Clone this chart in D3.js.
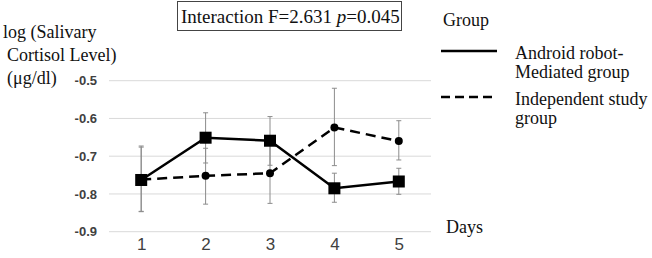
<!DOCTYPE html>
<html>
<head>
<meta charset="utf-8">
<script src="https://cdn.jsdelivr.net/npm/d3@7"></script>
<style>
  body { margin: 0; background: #fff; }
  svg { display: block; }
</style>
</head>
<body>
<div id="chart"></div>
<script>
// values
const days = [1, 2, 3, 4, 5]
const yTicks = [-0.5, -0.6, -0.7, -0.8, -0.9]

const robotMean = [-0.763, -0.651, -0.659, -0.785, -0.767]
const robotLow  = [-0.847, -0.718, -0.724, -0.822, -0.801]
const robotHigh = [-0.673, -0.585, -0.595, -0.745, -0.732]

const indepMean = [-0.762, -0.752, -0.745, -0.624, -0.660]
const indepLow  = [-0.846, -0.827, -0.825, -0.725, -0.710]
const indepHigh = [-0.676, -0.679, -0.665, -0.520, -0.606]

const legendNames = [['Android robot-', 'Mediated group'], ['Independent study', 'group']]

const width = 652, height = 258
const plot = { left: 109, right: 431, top: 80.7, bottom: 231.7 }

const svg = d3.select('#chart').append('svg')
    .attr('width', width)
    .attr('height', height)

const x = d3.scalePoint()
    .domain(days)
    .range([plot.left, plot.right])
    .padding(0.5)

const y = d3.scaleLinear()
    .domain([-0.9, -0.5])
    .range([plot.bottom, plot.top])

// gridlines
svg.append('g').selectAll('line')
    .data(yTicks)
    .join('line')
    .attr('x1', plot.left)
    .attr('x2', plot.right)
    .attr('y1', d => y(d))
    .attr('y2', d => y(d))
    .attr('stroke', '#d9d9d9')
    .attr('stroke-width', 1)

// y tick labels (plain hyphen like the original)
const yAxis = d3.axisLeft(y)
    .tickValues(yTicks)
    .tickFormat(d => d.toFixed(1))
    .tickSize(0)
    .tickPadding(12)
const gy = svg.append('g').attr('transform', `translate(${plot.left},0)`).call(yAxis)
gy.select('.domain').remove()
gy.selectAll('text')
    .attr('font-family', '"Liberation Sans", Arial, sans-serif')
    .attr('font-size', 13)
    .attr('font-weight', 'bold')
    .attr('fill', '#404040')

// x tick labels
const xAxis = d3.axisBottom(x).tickSize(0).tickPadding(0)
const gx = svg.append('g').attr('transform', `translate(0,${plot.bottom + 6})`).call(xAxis)
gx.select('.domain').remove()
gx.selectAll('text')
    .attr('font-family', '"Liberation Sans", Arial, sans-serif')
    .attr('font-size', 17)
    .attr('fill', '#404040')

// error bars
function errorBars(low, high) {
    const g = svg.append('g').attr('stroke', '#8c8c8c').attr('stroke-width', 1)
    days.forEach((d, i) => {
        const cx = x(d)
        g.append('line').attr('x1', cx).attr('x2', cx).attr('y1', y(low[i])).attr('y2', y(high[i]))
        g.append('line').attr('x1', cx - 2.5).attr('x2', cx + 2.5).attr('y1', y(low[i])).attr('y2', y(low[i]))
        g.append('line').attr('x1', cx - 2.5).attr('x2', cx + 2.5).attr('y1', y(high[i])).attr('y2', y(high[i]))
    })
}
errorBars(indepLow, indepHigh)
errorBars(robotLow, robotHigh)

const line = d3.line()
    .x((d, i) => x(days[i]))
    .y(d => y(d))

// independent study group (dashed, circles)
svg.append('path')
    .datum(indepMean)
    .attr('d', line)
    .attr('fill', 'none')
    .attr('stroke', '#000')
    .attr('stroke-width', 2.5)
    .attr('stroke-dasharray', '10,6')

svg.append('g').selectAll('circle')
    .data(indepMean)
    .join('circle')
    .attr('cx', (d, i) => x(days[i]))
    .attr('cy', d => y(d))
    .attr('r', 4)
    .attr('fill', '#000')

// android robot group (solid, squares)
svg.append('path')
    .datum(robotMean)
    .attr('d', line)
    .attr('fill', 'none')
    .attr('stroke', '#000')
    .attr('stroke-width', 2.5)

const sq = 12
svg.append('g').selectAll('rect')
    .data(robotMean)
    .join('rect')
    .attr('x', (d, i) => x(days[i]) - sq / 2)
    .attr('y', d => y(d) - sq / 2)
    .attr('width', sq)
    .attr('height', sq)
    .attr('fill', '#000')

const serif = '"Liberation Serif", "Times New Roman", "DejaVu Serif", serif'

// y axis title
const ytitle = svg.append('text')
    .attr('font-family', serif)
    .attr('font-size', 18)
    .attr('fill', '#111')
ytitle.append('tspan').attr('x', 3).attr('y', 38).text('log (Salivary')
ytitle.append('tspan').attr('x', 7).attr('y', 61).text('Cortisol Level)')
ytitle.append('tspan').attr('x', 7).attr('y', 84).text('(\u03bcg/dl)')

// interaction box
svg.append('rect')
    .attr('x', 177.5)
    .attr('y', 1.5)
    .attr('width', 224)
    .attr('height', 29)
    .attr('fill', '#fff')
    .attr('stroke', '#444')
    .attr('stroke-width', 1)

const ttl = svg.append('text')
    .attr('x', 181)
    .attr('y', 23)
    .attr('font-family', serif)
    .attr('font-size', 19)
    .attr('fill', '#111')
ttl.append('tspan').text('Interaction F=2.631 ')
ttl.append('tspan').attr('font-style', 'italic').text('p')
ttl.append('tspan').text('=0.045')

// legend
svg.append('text')
    .attr('x', 443)
    .attr('y', 26)
    .attr('font-family', serif)
    .attr('font-size', 18)
    .attr('fill', '#111')
    .text('Group')

const legendY = [51, 97]
const legendDash = [null, '9,5']
legendNames.forEach((lines, k) => {
    svg.append('line')
        .attr('x1', 441).attr('x2', 497)
        .attr('y1', legendY[k]).attr('y2', legendY[k])
        .attr('stroke', '#000')
        .attr('stroke-width', 2.5)
        .attr('stroke-dasharray', legendDash[k])
    const t = svg.append('text')
        .attr('font-family', serif)
        .attr('font-size', 18)
        .attr('fill', '#111')
    lines.forEach((s, j) => {
        t.append('tspan').attr('x', 515).attr('y', legendY[k] + 8 + j * 19).text(s)
    })
})

svg.append('text')
    .attr('x', 446)
    .attr('y', 233)
    .attr('font-family', serif)
    .attr('font-size', 18)
    .attr('fill', '#111')
    .text('Days')
</script>
</body>
</html>
